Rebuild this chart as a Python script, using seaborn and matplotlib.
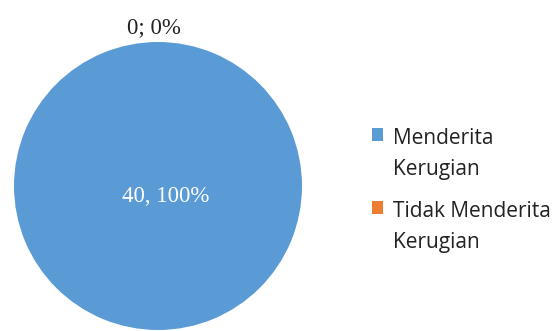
import matplotlib
matplotlib.use("Agg")
import matplotlib.pyplot as plt
import seaborn as sns

categories = ["Menderita\nKerugian", "Tidak Menderita\nKerugian"]
values = [40, 0]
label_texts = ["40, 100%", "0; 0%"]
colors = ["#5B9BD5", "#ED7D31"]

sns.set_theme(style="white")
plt.rcParams["font.family"] = ["Open Sans", "DejaVu Sans"]

fig = plt.figure(figsize=(5.6, 3.31), dpi=100)
W, H = 560, 331
cx, cy, r = 158, 186, 144
ax = fig.add_axes([(cx - r) / W, (H - cy - r) / H, 2 * r / W, 2 * r / H])
wedges, _ = ax.pie(values, colors=colors, startangle=90, counterclock=False,
                   wedgeprops=dict(linewidth=0))
ax.set_xlim(-1, 1)
ax.set_ylim(-1, 1)
ax.set_aspect("auto")
ax.axis("off")

# data labels
ax.text(0.05, -0.07, label_texts[0], ha="center", va="center", color="white",
        fontsize=16.5, family=["Liberation Serif"])
ax.text(-0.03, 1.10, label_texts[1], ha="center", va="center", color="#222222",
        fontsize=16.5, family=["Liberation Serif"], clip_on=False)

leg = fig.legend(wedges, categories, loc="upper left",
                 bbox_to_anchor=(372 / W, 1 - 128 / H), frameon=False,
                 borderaxespad=0, borderpad=0,
                 handlelength=0.55, handleheight=0.55, handletextpad=0.45,
                 labelspacing=1.05, fontsize=15)
for t in leg.get_texts():
    t.set_color("#222222")
    t.set_linespacing(1.6)
for col in leg._legend_handle_box.get_children():
    for row in col.get_children():
        row.align = "top"

fig.savefig("out.png", dpi=100)
